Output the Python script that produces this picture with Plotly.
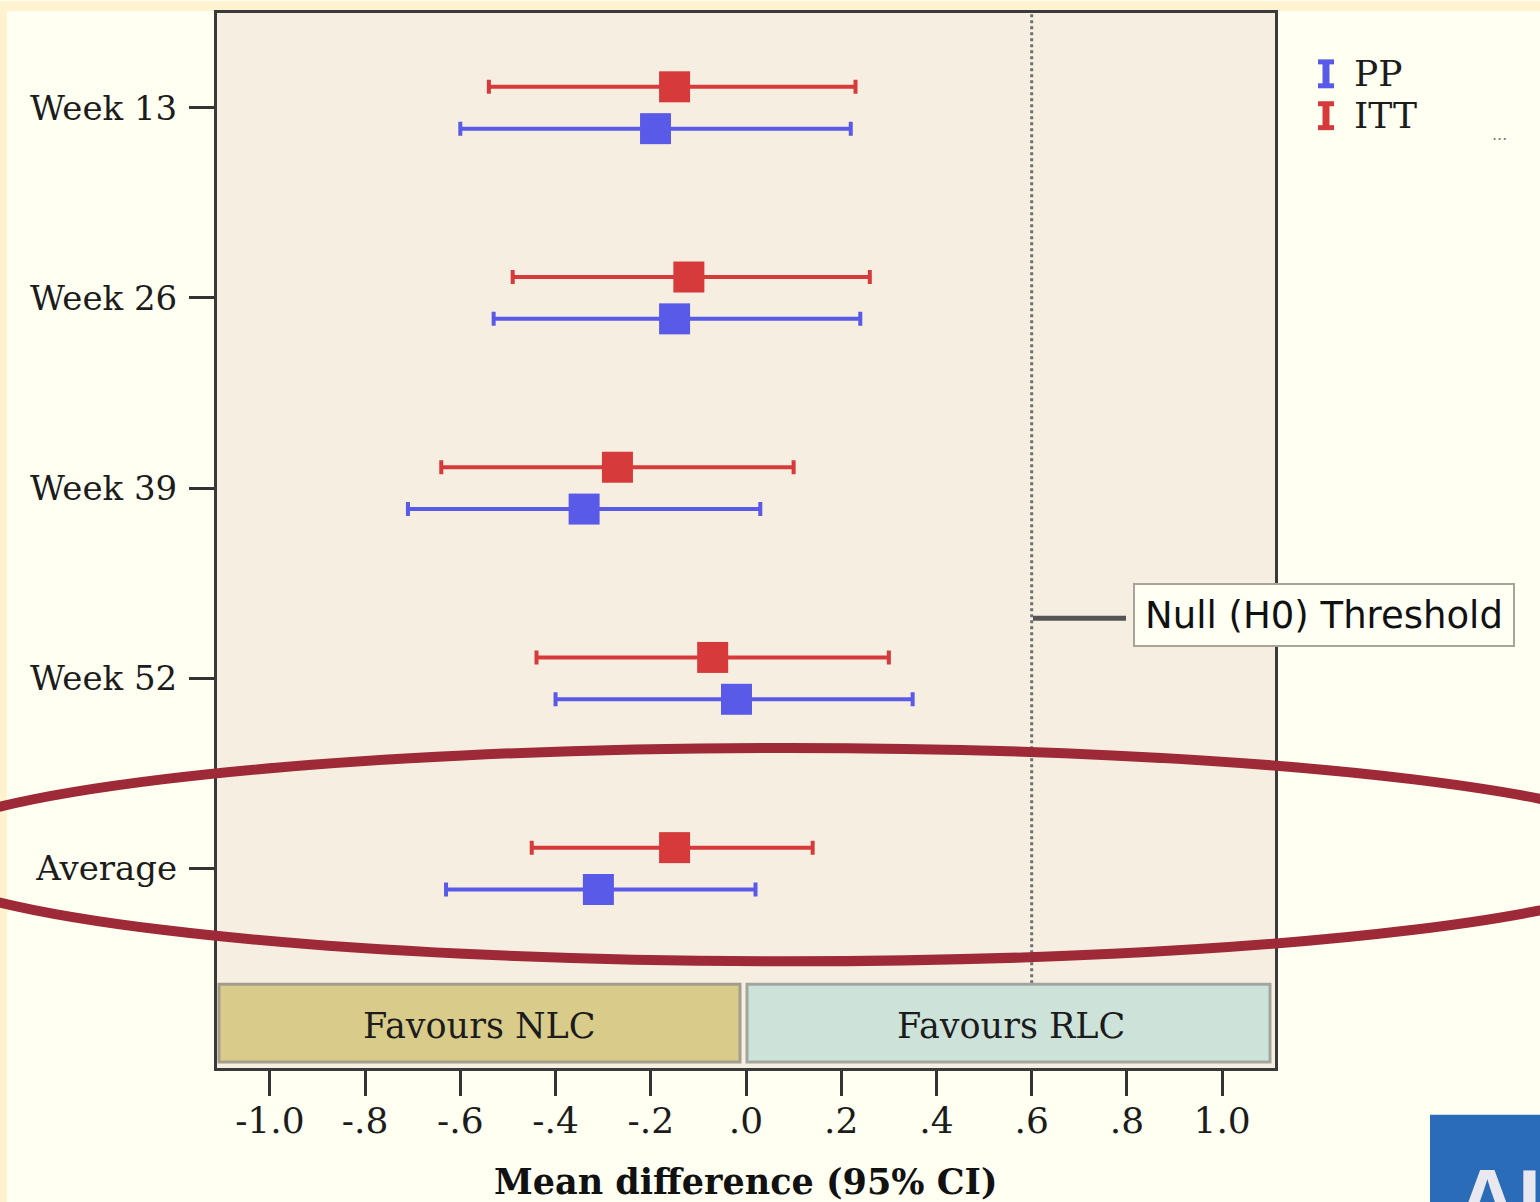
import plotly.graph_objects as go

# ---------------- data ----------------
categories = ["Week 13", "Week 26", "Week 39", "Week 52", "Average"]
itt_mean = [-0.15, -0.12, -0.27, -0.07, -0.15]
itt_lo = [-0.54, -0.49, -0.64, -0.44, -0.45]
itt_hi = [0.23, 0.26, 0.10, 0.30, 0.14]
pp_mean = [-0.19, -0.15, -0.34, -0.02, -0.31]
pp_lo = [-0.60, -0.53, -0.71, -0.40, -0.63]
pp_hi = [0.22, 0.24, 0.03, 0.35, 0.02]
x_tickvals = [-1.0, -0.8, -0.6, -0.4, -0.2, 0.0, 0.2, 0.4, 0.6, 0.8, 1.0]
x_ticktext = ["-1.0", "-.8", "-.6", "-.4", "-.2", ".0", ".2", ".4", ".6", ".8", "1.0"]
null_threshold = 0.6

# ---------------- layout helpers (page pixel coords) ----------------
W, H = 1540, 1202
L, R, T, B = 217, 1275, 10, 1068


def px(x):
    return (x - L) / (R - L)


def py(y):
    return (B - y) / (B - T)


RED = "#D63A3A"
BLUE = "#5A5AE8"
SERIF = "DejaVu Serif"
INK = "#1c1c1c"
YELLOW = "#FFF3CF"

pos = list(range(len(categories)))
off = 0.11

fig = go.Figure()


def series(name, mean, lo, hi, color, shift):
    fig.add_trace(go.Scatter(
        x=mean,
        y=[p + shift for p in pos],
        mode="markers",
        name=name,
        marker=dict(symbol="square", size=31, color=color),
        error_x=dict(
            type="data", symmetric=False,
            array=[h - m for h, m in zip(hi, mean)],
            arrayminus=[m - l for m, l in zip(mean, lo)],
            color=color, thickness=4, width=7,
        ),
        showlegend=False,
    ))


series("PP", pp_mean, pp_lo, pp_hi, BLUE, off)
series("ITT", itt_mean, itt_lo, itt_hi, RED, -off)

shapes = []
# yellow page edges (left and top)
shapes.append(dict(type="rect", xref="paper", yref="paper", x0=px(-2), x1=px(7), y0=py(H + 2), y1=py(-2),
                   fillcolor=YELLOW, line_width=0, layer="below"))
shapes.append(dict(type="rect", xref="paper", yref="paper", x0=px(-2), x1=px(W + 2), y0=py(8), y1=py(-2),
                   fillcolor=YELLOW, line_width=0, layer="below"))

# null threshold dotted line
shapes.append(dict(type="line", xref="x", yref="paper", x0=null_threshold, x1=null_threshold,
                   y0=py(983), y1=py(T), line=dict(color="#707070", width=3, dash="dot")))
# connector to label
shapes.append(dict(type="line", xref="paper", yref="paper", x0=px(1033), x1=px(1126),
                   y0=py(617), y1=py(617), line=dict(color="#555555", width=5)))

# favours boxes
shapes.append(dict(type="rect", xref="paper", yref="paper", x0=px(219), x1=px(740), y0=py(1062), y1=py(984),
                   fillcolor="#D9CC8B", line=dict(color="#A39D8C", width=3)))
shapes.append(dict(type="rect", xref="paper", yref="paper", x0=px(747), x1=px(1270), y0=py(1062), y1=py(984),
                   fillcolor="#CDE3D9", line=dict(color="#A3A69F", width=3)))

# legend glyphs (I-beam error-bar icons)
for yc, col in [(71, BLUE), (113, RED)]:
    shapes.append(dict(type="line", xref="paper", yref="paper", x0=px(1326), x1=px(1326),
                       y0=py(yc - 12), y1=py(yc + 12), line=dict(color=col, width=7)))
    for yy in (yc - 12, yc + 12):
        shapes.append(dict(type="line", xref="paper", yref="paper", x0=px(1318), x1=px(1334),
                           y0=py(yy), y1=py(yy), line=dict(color=col, width=5)))

# logo block
shapes.append(dict(type="rect", xref="paper", yref="paper", x0=px(1430), x1=px(1545), y0=py(1206), y1=py(1115),
                   fillcolor="#2B6CB9", line_width=0))

# red ellipse highlight
shapes.append(dict(type="circle", xref="paper", yref="paper", x0=px(-94), x1=px(1670), y0=py(961), y1=py(747),
                   line=dict(color="#9E2A38", width=10), layer="above"))

annotations = [
    dict(xref="paper", yref="paper", x=px(479), y=py(1026), text="Favours NLC", showarrow=False,
         font=dict(family=SERIF, size=35, color=INK), xanchor="center", yanchor="middle"),
    dict(xref="paper", yref="paper", x=px(1011), y=py(1026), text="Favours RLC", showarrow=False,
         font=dict(family=SERIF, size=35, color=INK), xanchor="center", yanchor="middle"),
    dict(xref="paper", yref="paper", x=px(1324), y=py(614), text="Null (H0) Threshold", showarrow=False,
         font=dict(family="DejaVu Sans", size=37, color="#111111"), xanchor="center", yanchor="middle",
         bgcolor="#FFFFF4", bordercolor="#A9A498", borderwidth=2, width=376, height=58),
    # custom legend text
    dict(xref="paper", yref="paper", x=px(1352), y=py(71), text="PP", showarrow=False,
         font=dict(family=SERIF, size=36, color=INK), xanchor="left", yanchor="middle"),
    dict(xref="paper", yref="paper", x=px(1352), y=py(113), text="ITT", showarrow=False,
         font=dict(family=SERIF, size=36, color=INK), xanchor="left", yanchor="middle"),
    dict(xref="paper", yref="paper", x=px(1499), y=py(132), text="...", showarrow=False,
         font=dict(family="DejaVu Sans", size=16, color="#777777"), xanchor="center", yanchor="middle"),
    dict(xref="paper", yref="paper", x=px(1455), y=py(1150), text="<b>AI</b>", showarrow=False,
         font=dict(family="Liberation Sans", size=84, color="#E8E8EE"), xanchor="left", yanchor="top"),
    dict(xref="paper", yref="paper", x=px(746), y=py(1182), text="<b>Mean difference (95% CI)</b>",
         showarrow=False, font=dict(family=SERIF, size=35, color="#111111"), xanchor="center", yanchor="middle"),
]

fig.update_layout(
    width=W, height=H,
    margin=dict(l=L, r=W - R, t=T, b=H - B, pad=0),
    paper_bgcolor="#FFFFF2",
    plot_bgcolor="#F6EEE1",
    shapes=shapes,
    annotations=annotations,
    showlegend=False,
    xaxis=dict(
        range=[-1.111, 1.111], tickvals=x_tickvals, ticktext=x_ticktext,
        ticks="outside", ticklen=25, tickwidth=3, tickcolor="#333333",
        showline=True, linecolor="#3a3a3a", linewidth=3, mirror=True,
        showgrid=False, zeroline=False,
        tickfont=dict(family=SERIF, size=36, color=INK), ticklabelstandoff=-6,
    ),
    yaxis=dict(
        range=[4 + 200 / 190.75, -95 / 190.75], tickvals=pos, ticktext=categories,
        ticks="outside", ticklen=25, tickwidth=3, tickcolor="#333333",
        showline=True, linecolor="#3a3a3a", linewidth=3, mirror=True,
        showgrid=False, zeroline=False,
        tickfont=dict(family=SERIF, size=34, color=INK), ticklabelstandoff=5,
    ),
)

fig.write_html(
    "out.html",
    config={"displayModeBar": False},
    post_script="document.body.style.margin='0';document.body.style.background='#FFFFF2';",
)
